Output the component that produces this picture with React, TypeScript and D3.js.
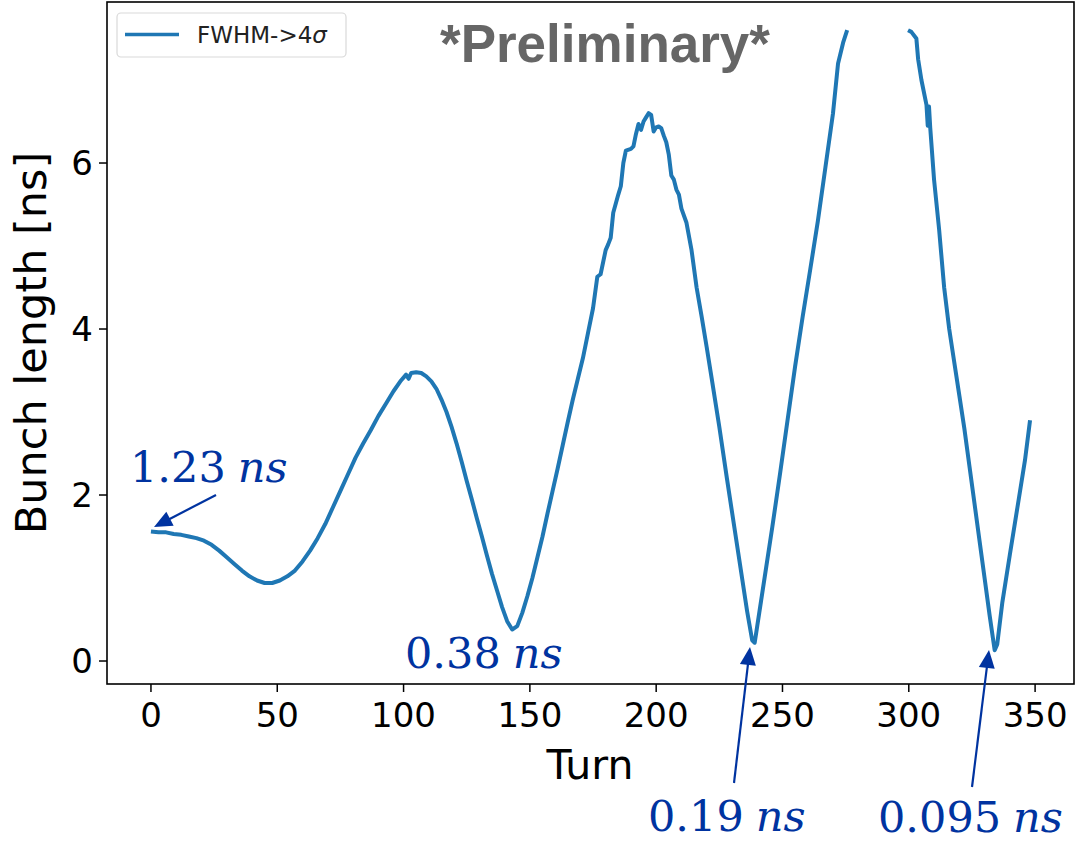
import React from "react";
import * as d3 from "d3";

const turns: number[] = [
  0, 3, 6, 9, 12, 15, 18, 21, 24, 27, 30, 33, 36, 39, 42, 45, 48, 51, 54, 57,
  60, 63, 66, 69, 72, 75, 78, 81, 84, 87, 90, 93, 96, 99, 101, 102, 103, 105, 107, 109,
  111, 113, 115, 117, 119, 121, 123, 125, 127, 129, 131, 133, 135, 137, 139, 141, 143, 145, 147, 149,
  151, 153, 155, 157, 159, 161, 163, 165, 167, 169, 171, 173, 175, 176.7, 178, 180, 181, 182, 183, 185,
  186, 187, 188, 190, 191, 192, 193, 194, 195, 196, 197, 198, 199, 200, 201, 202, 203, 204, 205, 206,
  207, 208, 209, 210, 212, 214, 216, 218, 220, 222, 225, 228, 231, 234, 236, 238, 239, 240, 243, 246,
  249, 252, 255, 258, 261, 264, 267, 270, 272, 274, 275.6, 287, 299.7, 301, 303, 303.7, 305, 307, 307.5, 308,
  308.5, 310, 312, 314, 316, 318, 320, 322, 324, 326, 328, 330, 332, 334, 335, 337, 340, 343, 346, 348,
];

const bunchLength: (number | null)[] = [
  1.56, 1.55, 1.55, 1.53, 1.52, 1.5, 1.48, 1.45, 1.4, 1.33, 1.25, 1.17, 1.09, 1.02, 0.97, 0.94, 0.94, 0.97, 1.02, 1.09,
  1.2, 1.33, 1.48, 1.65, 1.85, 2.05, 2.25, 2.45, 2.62, 2.78, 2.95, 3.1, 3.25, 3.38, 3.45, 3.4, 3.47, 3.48, 3.47, 3.43,
  3.37, 3.28, 3.15, 3.0, 2.82, 2.62, 2.4, 2.17, 1.95, 1.72, 1.5, 1.27, 1.05, 0.85, 0.65, 0.48, 0.38, 0.42, 0.58, 0.78,
  1.0, 1.25, 1.5, 1.78, 2.05, 2.32, 2.6, 2.88, 3.15, 3.4, 3.65, 3.95, 4.25, 4.63, 4.66, 4.95, 5.02, 5.1, 5.4, 5.62,
  5.72, 6.0, 6.15, 6.17, 6.2, 6.35, 6.47, 6.4, 6.5, 6.55, 6.6, 6.58, 6.38, 6.43, 6.44, 6.42, 6.33, 6.25, 6.1, 5.85,
  5.8, 5.68, 5.62, 5.45, 5.28, 4.95, 4.5, 4.15, 3.78, 3.4, 2.82, 2.2, 1.6, 1.0, 0.6, 0.25, 0.22, 0.42, 1.02, 1.62,
  2.25, 2.9, 3.55, 4.15, 4.72, 5.3, 5.95, 6.6, 7.2, 7.45, 7.6, null, 7.6, 7.58, 7.5, 7.25, 7.0, 6.7, 6.45, 6.68,
  6.42, 5.8, 5.2, 4.5, 4.0, 3.6, 3.2, 2.8, 2.35, 1.9, 1.45, 1.0, 0.55, 0.13, 0.2, 0.7, 1.28, 1.85, 2.42, 2.9,
];

const xTicks: number[] = [0, 50, 100, 150, 200, 250, 300, 350];
const yTicks: number[] = [0, 2, 4, 6];

const legendLabel = "FWHM->4σ";
const watermark = "*Preliminary*";

type Note = { num: string; x: number; y: number; from?: [number, number]; to?: [number, number] };
const notes: Note[] = [
  { num: "1.23", x: 130, y: 482, from: [216, 495], to: [154, 527] },
  { num: "0.38", x: 405, y: 668 },
  { num: "0.19", x: 648, y: 831, from: [734, 783], to: [750, 647] },
  { num: "0.095", x: 878, y: 832, from: [972, 787], to: [989, 650] },
];

export default function App() {
  const W = 1089;
  const H = 843;
  const left = 107, right = 1074, top = 2, bottom = 684;

  const x = d3.scaleLinear().domain([-17.4, 365.4]).range([left, right]);
  const y = d3.scaleLinear().domain([-0.277, 7.94]).range([bottom, top]);

  const pts = turns.map((t, i) => ({ t, v: bunchLength[i] }));
  const line = d3
    .line<{ t: number; v: number | null }>()
    .defined((d) => d.v !== null)
    .x((d) => x(d.t))
    .y((d) => y(d.v as number));

  const blue = "#0033a0";
  const tickFont = "DejaVu Sans, sans-serif";

  const arrowHead = (from: [number, number], to: [number, number]) => {
    const dx = to[0] - from[0];
    const dy = to[1] - from[1];
    const len = Math.hypot(dx, dy);
    const ux = dx / len, uy = dy / len;
    const hl = 18, hw = 8;
    const bx = to[0] - ux * hl, by = to[1] - uy * hl;
    const p1 = [bx - uy * hw, by + ux * hw];
    const p2 = [bx + uy * hw, by - ux * hw];
    return {
      poly: `${to[0]},${to[1]} ${p1[0]},${p1[1]} ${p2[0]},${p2[1]}`,
      shaft: [from[0], from[1], bx + ux * 2, by + uy * 2],
    };
  };

  return (
    <svg width={W} height={H} style={{ position: "absolute", left: 0, top: 0, background: "#fff" }}>
      <rect x={0} y={0} width={W} height={H} fill="#fff" />
      <defs>
        <clipPath id="plotclip">
          <rect x={left} y={top} width={right - left} height={bottom - top} />
        </clipPath>
      </defs>

      {/* data line */}
      <path
        d={line(pts) || ""}
        fill="none"
        stroke="#1f77b4"
        strokeWidth={4}
        strokeLinejoin="round"
        strokeLinecap="butt"
        clipPath="url(#plotclip)"
      />

      {/* spines */}
      <rect x={left} y={top} width={right - left} height={bottom - top} fill="none" stroke="#000" strokeWidth={1.6} />

      {/* x ticks */}
      {xTicks.map((t) => (
        <g key={"x" + t}>
          <line x1={x(t)} x2={x(t)} y1={bottom} y2={bottom + 8} stroke="#000" strokeWidth={1.5} />
          <text x={x(t)} y={bottom + 43} textAnchor="middle" fontFamily={tickFont} fontSize={34} fill="#000">
            {t}
          </text>
        </g>
      ))}
      {/* y ticks */}
      {yTicks.map((t) => (
        <g key={"y" + t}>
          <line x1={left - 8} x2={left} y1={y(t)} y2={y(t)} stroke="#000" strokeWidth={1.5} />
          <text x={left - 14} y={y(t) + 12} textAnchor="end" fontFamily={tickFont} fontSize={34} fill="#000">
            {t}
          </text>
        </g>
      ))}

      {/* axis labels */}
      <text x={590} y={779} textAnchor="middle" fontFamily={tickFont} fontSize={41} fill="#000">
        Turn
      </text>
      <text
        transform={`translate(46,${(top + bottom) / 2}) rotate(-90)`}
        textAnchor="middle"
        fontFamily={tickFont}
        fontSize={43}
        fill="#000"
      >
        Bunch length [ns]
      </text>

      {/* legend */}
      <rect x={117} y={13} width={229} height={44} rx={4} fill="#fff" fillOpacity={0.8} stroke="#d9d9d9" strokeWidth={1.2} />
      <line x1={125} x2={179} y1={34.5} y2={34.5} stroke="#1f77b4" strokeWidth={3.6} />
      <text x={197} y={43} fontFamily={tickFont} fontSize={23} fill="#222">
        {legendLabel.slice(0, -1)}
        <tspan fontStyle="italic">{legendLabel.slice(-1)}</tspan>
      </text>

      {/* watermark */}
      <text x={605} y={62} textAnchor="middle" fontFamily="Liberation Sans, Arial, sans-serif" fontWeight="bold" fontSize={53} fill="#666">
        {watermark}
      </text>

      {/* annotations */}
      {notes.map((n, i) => {
        const a = n.from && n.to ? arrowHead(n.from, n.to) : null;
        return (
          <g key={"n" + i}>
            <text x={n.x} y={n.y} fontFamily="DejaVu Serif, serif" fontSize={43} fill={blue}>
              {n.num}
              <tspan dx={12} fontStyle="italic">ns</tspan>
            </text>
            {a && (
              <g>
                <line x1={a.shaft[0]} y1={a.shaft[1]} x2={a.shaft[2]} y2={a.shaft[3]} stroke={blue} strokeWidth={2.2} />
                <polygon points={a.poly} fill={blue} />
              </g>
            )}
          </g>
        );
      })}
    </svg>
  );
}
